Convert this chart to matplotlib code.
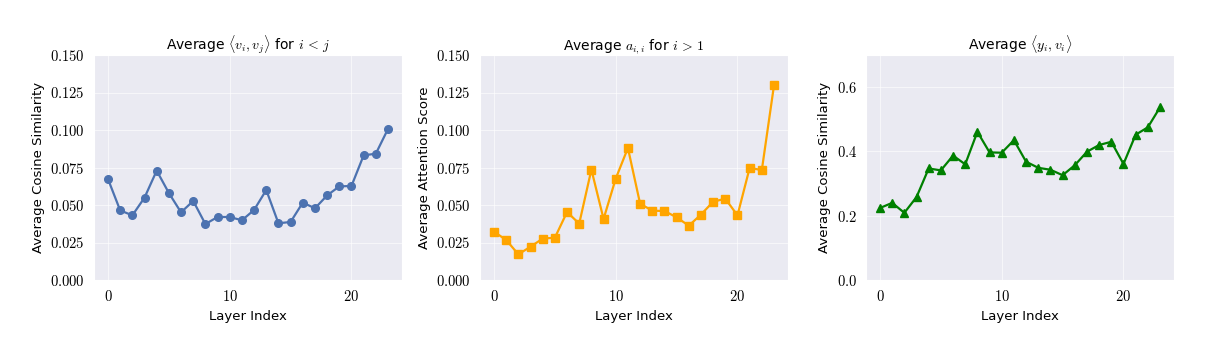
import numpy as np
import matplotlib
matplotlib.use("Agg")
import matplotlib.pyplot as plt
import matplotlib.ticker as mticker
import seaborn as sns

sns.set_style("darkgrid")
plt.rcParams['font.family'] = ['DejaVu Sans']
plt.rcParams['mathtext.fontset'] = 'cm'
plt.rcParams['text.color'] = 'black'
plt.rcParams['axes.labelcolor'] = 'black'
plt.rcParams['xtick.color'] = 'black'
plt.rcParams['ytick.color'] = 'black'

# values
layers = np.arange(24)
vv_sim = [0.0673, 0.0464, 0.0431, 0.0549, 0.0729, 0.0580, 0.0451, 0.0527,
          0.0373, 0.0420, 0.0420, 0.0398, 0.0467, 0.0600, 0.0378, 0.0387,
          0.0516, 0.0478, 0.0564, 0.0624, 0.0627, 0.0831, 0.0842, 0.1007]
attn_diag = [0.0322, 0.0267, 0.0171, 0.0222, 0.0276, 0.0282, 0.0453, 0.0376,
             0.0736, 0.0407, 0.0676, 0.0880, 0.0509, 0.0462, 0.0460, 0.0418,
             0.0362, 0.0436, 0.0522, 0.0542, 0.0431, 0.0747, 0.0733, 0.1298]
yv_sim = [0.224, 0.240, 0.209, 0.258, 0.347, 0.341, 0.387, 0.360,
          0.461, 0.397, 0.396, 0.435, 0.368, 0.349, 0.343, 0.326,
          0.357, 0.399, 0.420, 0.430, 0.361, 0.452, 0.475, 0.537]

titles = [r'Average $\langle v_i, v_j \rangle$ for $i\,<\,j$',
          r'Average $a_{i,i}$ for $i\,>\,1$',
          r'Average $\langle y_i, v_i \rangle$']
ylabels = ['Average Cosine Similarity', 'Average Attention Score',
           'Average Cosine Similarity']
series = [vv_sim, attn_diag, yv_sim]
colors = ['#4C72B0', 'orange', 'green']
markers = ['o', 's', '^']

fig = plt.figure(figsize=(12.16, 3.53), dpi=100)
lefts = [94, 480, 866]
for k in range(3):
    ax = fig.add_axes([lefts[k] / 1216, 73 / 353, 308 / 1216, 225 / 353])
    ax.plot(layers, series[k], color=colors[k], marker=markers[k],
            markersize=5.5, linewidth=1.6)
    ax.set_title(titles[k], fontsize=10, pad=4)
    ax.set_xlabel('Layer Index', fontsize=9.5)
    ax.set_ylabel(ylabels[k], fontsize=9.5)
    ax.set_xticks([0, 10, 20])
    if k < 2:
        ax.set_ylim(0, 0.15)
        ax.set_yticks(np.arange(0, 0.151, 0.025))
        ax.yaxis.set_major_formatter(mticker.FuncFormatter(lambda v, p: f'${v:.3f}$'))
    else:
        ax.set_ylim(0, 0.7)
        ax.set_yticks([0, 0.2, 0.4, 0.6])
        ax.yaxis.set_major_formatter(mticker.FuncFormatter(lambda v, p: f'${v:.1f}$'))
    ax.xaxis.set_major_formatter(mticker.FuncFormatter(lambda v, p: f'${v:.0f}$'))
    ax.tick_params(labelsize=10.5, pad=3)
    ax.grid(color='white', linewidth=0.8, alpha=0.6)

fig.savefig('out.png', dpi=100)
